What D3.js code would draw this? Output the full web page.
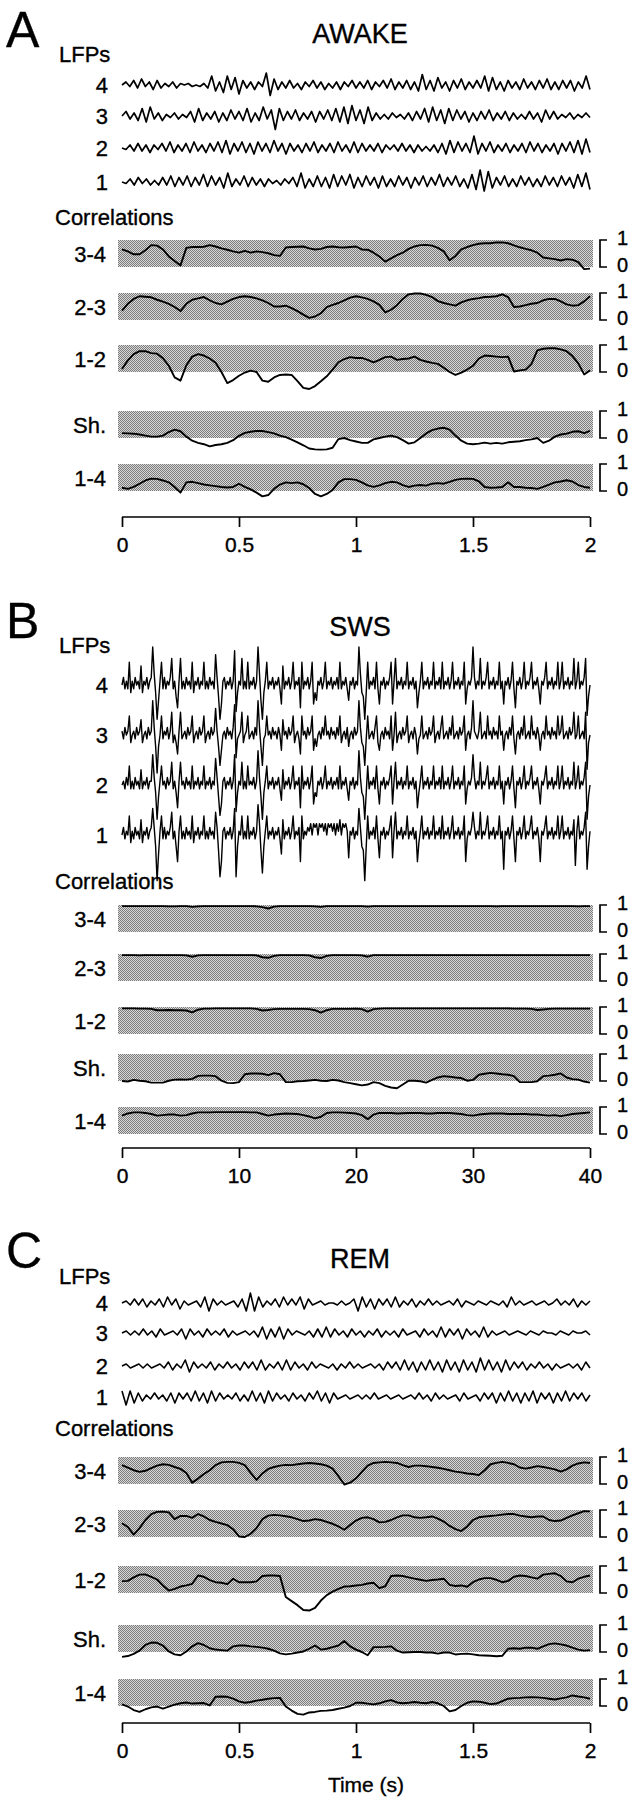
<!DOCTYPE html>
<html>
<head>
<meta charset="utf-8">
<script src="https://cdn.jsdelivr.net/npm/d3@7"></script>
<style>
  body { margin: 0; background: #fff; }
  svg { display: block; }
</style>
</head>
<body>
<div id="fig"></div>
<script>
// ---- data ----
const lfpNames = ["4", "3", "2", "1"];
const pairNames = ["3-4", "2-3", "1-2", "Sh.", "1-4"];
const secTicks = [0, 0.5, 1, 1.5, 2];
const swsTicks = [0, 10, 20, 30, 40];

// LFP traces, arbitrary units, evenly sampled over the window
const awake4 = [0,2,-1,3,-2,4,-1,2,-3,3,-2,1,-1,2,-2,1,0,1,-1,0,-1,1,-2,6,-4,2,-5,6,-3,5,-6,3,-2,2,-3,2,-1,8,-7,4,-3,2,-2,3,-2,1,-3,2,-1,3,-2,2,-3,1,-2,2,-3,2,-1,3,-2,2,-2,3,-3,2,-1,3,-2,4,-3,2,-2,3,-3,2,-4,7,-3,3,-4,5,-2,2,-4,3,-2,4,-3,2,-2,3,-2,6,-4,5,-3,2,-4,3,-2,2,-3,4,-2,2,-3,3,-2,4,-3,2,-3,3,-2,3,-4,2,-2,6,-3];
const awake3 = [0,3,-2,2,-3,5,-4,6,-2,2,-3,1,-1,2,-2,1,-1,3,-4,5,-3,2,-2,3,-4,2,-3,4,-2,3,-3,5,-4,2,-3,6,-2,4,-9,5,-3,3,-2,4,-3,2,-2,3,-4,3,-2,4,-3,5,-4,6,-5,7,-3,4,-5,6,-3,2,-2,1,-2,2,-1,1,-2,2,-3,3,-2,5,-4,6,-3,4,-5,5,-3,4,-2,3,-4,2,-3,3,-2,4,-3,2,-2,3,-3,2,-2,1,-2,3,-2,2,-4,4,-2,3,-2,1,-1,2,-2,1,-1,2,-1];
const awake2 = [0,-1,2,-2,3,-2,2,-3,2,-1,3,-2,4,-3,2,-2,3,-3,4,-2,2,-3,3,-2,4,-3,5,-4,3,-2,4,-3,3,-4,4,-2,3,-3,5,-2,3,-4,3,-2,2,-3,3,-2,4,-3,2,-2,3,-3,4,-2,2,-3,4,-3,3,-2,2,-2,3,-3,2,-1,2,-2,3,-2,2,-3,2,-2,1,-2,2,-3,3,-4,5,-3,4,-2,3,-3,8,-4,3,-2,4,-3,2,-2,3,-3,2,-2,3,-3,4,-2,3,-3,2,-2,3,-4,3,-2,4,-3,5,-4,6,-3];
const awake1 = [0,-1,2,-2,3,-1,2,-2,1,-2,3,-2,4,-3,3,-2,4,-3,3,-2,5,-3,4,-2,3,-4,6,-3,2,-2,4,-3,3,-2,2,-3,2,-1,1,-2,2,-1,3,-3,6,-4,2,-3,4,-3,3,-4,5,-3,4,-2,5,-4,3,-3,4,-2,3,-4,4,-3,2,-3,4,-2,3,-4,3,-2,4,-3,3,-2,5,-3,3,-2,4,-3,2,-4,5,-5,8,-6,7,-4,3,-2,4,-3,2,-3,4,-2,3,-3,2,-3,4,-2,3,-3,4,-2,3,-4,5,-3,6,-5];

const sws4 = [0,2,-1,1,-1,6,-2,1,-1,2,0,1,-1,5,-2,1,0,2,-1,1,
  2,10,3,-2,-9,-4,1,6,-1,2,-1,1,0,2,7,-1,1,-3,-6,1,
  7,-1,1,-1,2,0,1,-1,6,-2,1,0,2,-1,1,0,6,-1,1,-1,
  2,0,1,-1,8,2,-3,-9,-5,1,2,-1,1,0,2,-1,1,9,-7,-2,
  1,0,7,-1,1,-1,6,-1,1,0,2,-1,1,10,3,-4,-9,-2,1,6,
  -1,1,0,2,-1,1,0,2,-1,-5,5,-1,1,0,2,-1,1,6,-1,1,
  0,2,-6,6,-1,1,0,2,-1,1,6,-5,-2,-4,1,0,2,-1,1,6,
  -1,1,0,2,-1,1,0,2,-1,6,-1,1,0,2,-1,-4,1,0,2,-1,
  1,0,10,3,-2,-3,-9,-2,6,-1,1,0,2,-1,6,-1,-5,1,0,2,
  -1,1,0,2,6,-5,1,7,-1,1,0,2,-1,1,0,6,-1,1,0,2,
  -1,1,-6,-2,1,6,-1,1,0,2,-1,1,0,6,-1,1,0,2,-1,6,
  -1,1,0,2,-1,1,6,-1,1,0,2,-1,1,0,6,-5,-1,1,0,2,
  10,2,-1,1,0,7,-1,1,0,2,6,-1,1,0,2,-1,1,0,6,-1,
  1,-5,1,0,2,-1,1,6,-1,-6,1,0,2,-1,1,6,-1,1,0,2,
  6,-1,1,0,2,-1,-5,1,0,2,6,-1,1,0,2,-1,1,0,6,-1,
  1,6,-1,1,0,2,-1,1,0,7,-1,1,6,-1,1,0,2,7,-8,-3,0];
const sws3 = [1,-1,2,0,1,5,-2,0,1,-1,2,0,1,4,-2,0,1,-1,2,0,
  1,9,2,-3,-10,-3,0,5,-1,1,0,2,-1,1,6,-2,0,-2,-5,1,
  6,-1,0,1,-1,2,0,1,5,-2,0,1,-1,2,0,1,5,-2,0,1,
  -1,2,0,1,7,1,-3,-8,-4,0,1,-1,2,0,1,-1,2,8,-6,-1,
  0,1,6,-2,0,1,5,-1,0,1,-1,2,0,9,2,-3,-8,-1,0,5,
  0,1,-1,2,0,1,-1,2,0,-4,4,0,1,-1,2,0,1,5,-2,0,
  1,-1,-5,5,0,1,-1,2,0,1,5,-4,-1,-3,0,1,-1,2,0,5,
  0,1,-1,2,0,1,-1,2,0,5,-2,0,1,-1,2,-3,0,1,-1,2,
  0,1,9,2,-2,-3,-8,-1,5,-1,0,1,-1,2,5,-2,-4,0,1,-1,
  2,0,1,-1,5,-4,0,6,-2,0,1,-1,2,0,1,5,-2,0,1,-1,
  2,0,-5,-1,0,5,-1,0,1,-1,2,0,1,5,-2,0,1,-1,2,5,
  -1,0,1,-1,2,0,5,-1,0,1,-1,2,0,1,5,-4,0,1,-1,2,
  9,1,0,-1,1,6,-1,0,1,-1,5,0,1,-1,2,0,1,-1,5,0,
  1,-4,0,1,-1,2,0,5,-1,-5,0,1,-1,2,0,5,-1,0,1,-1,
  5,0,1,-1,2,0,-4,0,1,-1,5,0,1,-1,2,0,1,-1,5,0,
  1,5,-1,0,1,-1,2,0,1,6,-1,0,5,-1,0,1,-1,6,-9,-2,0];
const sws2 = [0,1,-1,2,0,5,-1,1,-1,2,0,1,-1,4,-1,1,0,2,-1,1,
  1,8,2,-2,-9,-3,1,5,0,1,-1,2,0,1,6,-1,1,-2,-6,1,
  6,0,1,-1,2,0,1,-1,5,-1,1,0,2,-1,1,0,5,-1,1,0,
  2,-1,1,0,7,2,-3,-8,-5,1,2,-1,1,0,2,-1,1,8,-7,-2,
  1,0,6,-1,1,-1,5,0,1,0,2,-1,1,9,2,-3,-9,-2,1,5,
  -1,1,0,2,-1,1,0,2,-1,-4,4,-1,1,0,2,-1,1,5,-1,1,
  0,2,-6,5,-1,1,0,2,-1,1,5,-5,-2,-3,1,0,2,-1,1,5,
  -1,1,0,2,-1,1,0,2,-1,5,-1,1,0,2,-1,-4,1,0,2,-1,
  1,0,9,2,-2,-3,-9,-2,5,-1,1,0,2,-1,5,-1,-5,1,0,2,
  -1,1,0,2,5,-5,1,6,-1,1,0,2,-1,1,0,5,-1,1,0,2,
  -1,1,-6,-2,1,5,-1,1,0,2,-1,1,0,5,-1,1,0,2,-1,5,
  -1,1,0,2,-1,1,5,-1,1,0,2,-1,1,0,5,-5,-1,1,0,2,
  8,2,-1,1,0,6,-1,1,0,2,5,-1,1,0,2,-1,1,0,5,-1,
  1,-5,1,0,2,-1,1,5,-1,-6,1,0,2,-1,1,5,-1,1,0,2,
  5,-1,1,0,2,-1,-5,1,0,2,5,-1,1,0,2,-1,1,0,5,-1,
  1,5,-1,1,0,2,-1,1,0,6,-1,1,5,-1,1,0,2,6,-9,-3,0];
const sws1 = [0,2,-1,1,0,5,-2,1,-1,2,0,1,-1,4,-2,1,0,2,-1,1,
  2,7,2,-3,-12,-5,1,5,-1,2,-1,1,0,2,6,-1,1,-3,-7,1,
  5,-1,1,-1,2,0,1,-1,5,-2,1,0,2,-1,1,0,5,-1,1,-1,
  2,0,1,-1,6,2,-4,-11,-7,1,2,-1,1,0,2,-1,1,7,-11,-3,
  1,0,5,-1,1,-1,5,-1,1,0,2,-1,1,8,3,-4,-10,-3,1,5,
  -1,1,0,2,-1,1,0,2,-1,-5,4,-1,1,0,2,-1,1,5,-1,1,
  0,2,-7,5,-1,1,0,2,1,3,0,3,2,3,0,3,2,3,1,3,
  0,3,2,3,1,3,0,3,1,4,0,3,2,3,1,-6,1,0,2,-1,
  1,0,7,2,-3,-4,-12,-3,5,-1,1,0,2,-1,5,-1,-6,1,0,2,
  -1,1,0,2,5,-6,1,6,-1,1,0,2,-1,1,0,5,-1,1,0,2,
  -1,1,-7,-2,1,5,-1,1,0,2,-1,1,0,5,-1,1,0,2,-1,5,
  -1,1,0,2,-1,1,5,-1,1,0,2,-1,1,0,5,-7,-1,1,0,2,
  6,2,-1,1,0,6,-1,1,0,2,5,-1,1,0,2,-1,1,0,5,-1,
  1,-9,1,0,2,-1,1,5,-1,-7,1,0,2,-1,1,5,-1,1,0,2,
  5,-1,1,0,2,-1,-7,1,0,2,5,-1,1,0,2,-1,1,0,5,-1,
  1,5,-1,1,0,2,-1,1,0,4,-8,1,5,-1,1,0,2,6,-9,-3,1];

const rem4 = [0,1,-1,2,-1,2,-2,1,-1,2,-2,3,-1,2,-3,1,-1,0,1,-2,3,-4,2,-1,1,-1,0,1,-2,2,-4,5,-4,3,-2,1,-1,2,-2,3,-1,2,-1,3,-3,2,-1,0,1,-1,0,0,-1,1,-1,0,2,-4,3,-2,2,-3,2,-1,2,-2,3,-2,1,-1,2,-2,1,-1,2,-1,1,-1,0,1,-1,2,-2,1,0,-1,1,0,-1,1,0,-1,1,-2,3,-1,1,-1,0,1,-1,0,1,-1,0,2,-1,1,-1,2,-2,1,-1,1];
const rem3 = [0,1,-1,1,-1,2,-1,1,-2,2,-1,0,1,-1,2,-3,2,-1,1,-2,2,-1,1,-1,2,-2,1,-1,0,1,-1,1,-2,3,-3,2,-2,3,-3,2,-1,1,0,-1,1,-2,2,-2,3,-2,2,-1,1,-2,2,-1,1,-2,1,-1,2,-2,1,-1,1,-2,2,-1,0,1,-2,2,-1,1,-2,3,-2,2,-1,2,-3,2,-1,1,-2,3,-2,1,-1,0,1,-1,0,1,0,-1,1,0,-1,1,0,0,-1,1,0,-1,1,0,0,1,-1];
const rem2 = [0,1,-1,0,1,-1,1,-1,0,1,-1,2,-2,1,-1,3,-3,2,-1,1,-1,2,-2,1,-1,2,-1,1,-2,2,-1,2,-2,3,-2,1,-1,2,-2,3,-2,2,-1,1,-2,2,-1,1,0,-1,1,-2,1,-1,2,-1,1,-1,0,1,-1,1,-2,2,-1,2,-2,3,-2,2,-3,2,-2,3,-2,2,-3,3,-2,2,-3,3,-2,2,-3,4,-2,3,-2,2,-3,3,-2,2,-1,2,-2,1,-1,2,-1,1,-2,1,-1,0,1,-1,1,-2,2,-1];
const rem1 = [3,-4,3,-3,2,-2,1,-1,2,-1,1,-2,2,-3,2,-1,2,-2,3,-2,2,-3,3,-2,2,-1,1,-1,2,-2,1,-2,3,-2,2,-3,3,-2,2,-1,1,-2,2,-1,1,-2,2,-1,3,-2,2,-3,2,-1,0,1,-1,0,1,-1,1,-1,2,-1,0,1,-1,0,1,-1,0,1,-1,2,-1,1,-2,2,-1,1,-1,0,1,-2,2,-1,0,1,-2,2,-1,2,-3,2,-2,3,-2,2,-3,2,-2,3,-3,2,-1,2,-3,2,-2,3,-2,2,-1,2,-2,1];

// sliding-window correlations, r x 100, 81 even samples over the window
const awakeC34 = [65,58,47,47,62,81,79,65,39,22,6,71,74,74,75,81,76,69,64,58,53,60,53,58,55,51,44,41,72,74,75,76,69,65,67,74,76,73,72,74,76,65,64,53,39,20,32,44,53,67,76,81,82,79,71,58,25,41,65,74,81,86,88,88,91,91,88,80,73,67,62,53,35,32,29,24,29,27,18,-8,-6];
const awakeC23 = [35,60,78,88,86,84,75,68,60,48,33,60,75,80,85,73,63,58,68,78,85,88,85,80,73,63,50,50,53,44,33,20,8,13,25,48,56,63,73,83,88,84,78,69,56,28,38,55,78,95,98,98,93,85,70,63,58,53,65,73,78,81,85,86,88,95,85,48,50,55,60,63,73,78,78,69,58,53,55,69,88];
const awakeC12 = [11,43,66,77,77,70,68,51,23,-20,-32,25,57,66,61,50,34,0,-41,-30,-14,-2,5,0,-32,-36,-20,-11,-9,-11,-34,-59,-63,-52,-34,-16,9,36,48,55,52,52,45,36,45,55,57,45,48,50,57,45,39,34,30,16,0,-11,-2,9,23,50,61,59,57,55,57,2,6,9,30,80,86,88,88,84,77,59,32,-9,6];
const awakeCSh = [18,17,16,13,9,5,5,9,22,31,25,5,-10,-18,-23,-31,-26,-23,-18,-8,8,19,23,26,26,22,17,9,3,-6,-16,-27,-39,-42,-43,-42,-36,-4,0,-8,-13,-18,-18,-5,0,5,9,3,-8,-21,-16,0,17,29,35,38,31,9,-10,-21,-23,-21,-17,-21,-18,-21,-16,-14,-12,-8,-5,0,-18,-10,5,13,16,23,25,18,26];
const awakeC14 = [12,8,15,27,39,46,45,39,32,15,-6,32,34,29,24,21,18,15,13,15,27,15,6,-6,-20,-15,8,24,32,29,32,25,11,-11,-20,-11,4,32,44,44,41,32,21,15,21,29,34,32,22,15,20,22,20,27,29,27,34,41,45,46,45,36,15,12,13,15,32,15,15,12,11,8,15,24,32,35,40,35,22,15,12];

const swsC34 = [96,96,96,96,96,96,96,96,95,95,96,96,93,95,96,96,96,96,96,96,96,96,96,95,92,87,94,96,96,96,96,96,96,95,93,96,96,96,96,96,96,96,94,96,96,96,96,96,96,96,96,96,96,96,96,96,96,96,96,96,96,96,96,96,95,96,96,96,96,96,96,96,96,96,96,96,96,96,95,96,96];
const swsC23 = [96,96,96,95,96,96,96,96,96,96,96,95,90,95,96,96,96,96,96,96,96,96,96,95,88,86,93,96,96,96,96,96,95,88,85,93,96,96,96,96,96,95,90,96,96,96,96,96,96,96,96,96,96,96,96,96,96,96,96,96,96,96,96,96,96,96,96,96,96,96,96,96,96,96,96,96,96,96,96,96,96];
const swsC12 = [95,95,95,94,94,93,88,88,89,88,88,87,80,90,94,94,95,95,95,95,95,95,95,93,87,89,92,93,93,93,93,93,92,88,79,88,93,93,93,93,94,92,83,92,94,95,95,95,95,95,95,95,95,95,95,95,95,95,95,95,95,95,95,95,95,95,95,94,94,94,93,89,91,93,94,94,94,94,94,94,94];
const swsCSh = [0,-2,4,1,-1,-6,-6,-6,1,5,6,5,8,19,20,20,18,1,-7,-8,-4,25,28,28,27,22,29,25,-4,-4,-1,0,2,4,1,0,4,2,-4,-8,-12,-16,-13,-4,-8,-18,-24,-27,-13,1,1,-1,-6,4,13,18,16,13,11,1,4,23,27,30,28,25,23,18,-4,-4,-4,-1,18,20,23,28,13,7,5,-2,-6];
const swsC14 = [68,76,80,80,78,74,68,70,72,72,68,70,76,80,80,80,81,81,81,81,81,81,80,80,74,68,72,74,76,75,74,70,65,58,64,78,80,80,79,78,76,70,55,72,78,78,78,76,77,78,78,78,76,76,78,78,78,76,74,70,68,72,74,76,76,76,74,74,74,74,72,72,70,68,70,66,70,74,76,78,80];

const remC34 = [70,61,51,45,49,59,68,73,71,63,56,41,5,20,37,51,70,80,82,82,78,70,41,15,39,56,63,68,71,70,73,76,78,76,73,68,57,29,-2,5,21,45,68,78,80,82,80,78,70,63,68,68,66,63,60,56,51,46,43,39,37,33,51,73,78,82,78,73,61,57,61,66,63,59,54,46,54,68,76,80,78];
const remC23 = [51,37,9,33,63,85,93,94,91,66,78,78,71,85,76,63,56,50,44,29,2,0,12,33,66,79,82,80,77,73,66,59,61,66,63,56,49,39,27,44,61,71,73,66,54,56,63,73,80,80,73,71,73,76,68,57,41,29,22,39,63,73,76,78,80,83,85,85,79,76,73,76,76,63,59,61,71,80,88,96,95];
const remC12 = [44,45,58,68,69,60,50,28,9,15,24,28,34,65,60,48,40,38,33,53,40,40,40,43,63,65,65,63,-15,-30,-45,-63,-65,-55,-28,-8,5,15,24,25,28,30,35,38,18,25,63,65,63,58,53,49,45,48,50,53,30,26,28,23,40,50,55,55,49,40,45,60,65,63,58,53,68,71,73,63,43,40,53,60,65];
const remCSh = [-18,-15,-7,5,26,35,34,24,2,-9,-12,2,21,33,26,14,9,7,5,21,24,24,21,19,16,12,5,-5,-9,-6,-2,2,12,24,9,12,18,24,41,21,9,0,-12,18,18,19,21,5,-2,-1,0,0,-2,-2,-6,-2,-2,-9,-7,-6,-9,-12,-13,-14,-16,-14,12,14,12,16,16,12,21,29,32,28,24,16,9,5,7];
const remC14 = [6,-2,-15,-22,-12,-5,-2,-10,-2,5,10,13,9,10,11,2,34,35,34,27,17,12,15,20,23,27,29,30,-2,-17,-29,-32,-24,-22,-18,-17,-15,-10,-6,0,12,12,9,6,10,17,22,13,10,12,15,12,10,15,10,0,-20,-15,0,12,17,16,12,7,9,18,27,29,30,32,33,32,30,27,24,28,32,39,35,32,27];

// ---- layout ----
const W = 637, H = 1800;
const FONT = "'Liberation Sans', Arial, Helvetica, sans-serif";

const panels = [
  { letter: "A", title: "AWAKE", letterY: 47, titleY: 43, lfpsY: 62,
    lfpY: [85, 116, 148, 182], unit: 1.5, lfpStroke: 1.7, lfp: [awake4, awake3, awake2, awake1],
    corrLabelY: 225, bandTop: [240, 293, 345, 411, 464],
    corr: [awakeC34, awakeC23, awakeC12, awakeCSh, awakeC14],
    axisY: 517, tmax: 2, ticks: secTicks },
  { letter: "B", title: "SWS", letterY: 638, titleY: 636, lfpsY: 653,
    lfpY: [685, 735, 785, 835], unit: 3.8, lfpStroke: 1.4, lfp: [sws4, sws3, sws2, sws1],
    corrLabelY: 889, bandTop: [905, 954, 1007, 1054, 1107],
    corr: [swsC34, swsC23, swsC12, swsCSh, swsC14],
    axisY: 1148, tmax: 40, ticks: swsTicks },
  { letter: "C", title: "REM", letterY: 1268, titleY: 1268, lfpsY: 1284,
    lfpY: [1303, 1333, 1366, 1397], unit: 2.0, lfpStroke: 1.6, lfp: [rem4, rem3, rem2, rem1],
    corrLabelY: 1436, bandTop: [1457, 1510, 1566, 1625, 1679],
    corr: [remC34, remC23, remC12, remCSh, remC14],
    axisY: 1723, tmax: 2, ticks: secTicks, xlabel: "Time (s)" }
];
const bandH = 27;

const svg = d3.select("#fig").append("svg")
  .attr("width", W).attr("height", H)
  .style("font-family", FONT);

svg.append("rect").attr("width", W).attr("height", H).attr("fill", "#fff");

// stippled grey for the correlation bands
const pat = svg.append("defs").append("pattern")
  .attr("id", "stip").attr("width", 2).attr("height", 2)
  .attr("patternUnits", "userSpaceOnUse");
pat.append("rect").attr("width", 2).attr("height", 2).attr("fill", "#d8d8d8");
pat.append("rect").attr("x", 0).attr("y", 0).attr("width", 1).attr("height", 1).attr("fill", "#7c7c7c");
pat.append("rect").attr("x", 1).attr("y", 1).attr("width", 1).attr("height", 1).attr("fill", "#7c7c7c");

// scanned text looks a little heavier than a clean regular weight
function label(g, x, y, size, txt, anchor) {
  return g.append("text").attr("x", x).attr("y", y)
    .attr("font-size", size).attr("text-anchor", anchor || "start")
    .attr("stroke", "#000").attr("stroke-width", 0.35)
    .text(txt);
}

panels.forEach(p => {
  const g = svg.append("g");
  const x = d3.scaleLinear().domain([0, p.tmax]).range([122, 590]);

  label(g, 6, p.letterY, 50, p.letter);
  label(g, 360, p.titleY, 27, p.title, "middle");
  label(g, 59, p.lfpsY, 22, "LFPs");

  // LFP traces
  p.lfp.forEach((vals, k) => {
    const y0 = p.lfpY[k];
    const xi = d3.scaleLinear().domain([0, vals.length - 1]).range([0, p.tmax]);
    const line = d3.line()
      .x((d, i) => x(xi(i)))
      .y(d => y0 - d * p.unit);
    g.append("path").datum(vals)
      .attr("d", line)
      .attr("fill", "none").attr("stroke", "#000")
      .attr("stroke-width", p.lfpStroke).attr("stroke-linejoin", "round");
    label(g, 108, p.lfpY[k] + 8, 22, lfpNames[k], "end");
  });

  label(g, 55, p.corrLabelY, 22, "Correlations");

  // correlation bands
  p.corr.forEach((vals, k) => {
    const top = p.bandTop[k], bot = top + bandH;
    const y = d3.scaleLinear().domain([0, 100]).range([bot, top]);
    const xi = d3.scaleLinear().domain([0, vals.length - 1]).range([0, p.tmax]);

    g.append("rect").attr("x", 118).attr("y", top)
      .attr("width", 593 - 118).attr("height", bandH)
      .attr("fill", "url(#stip)");

    g.append("path").datum(vals)
      .attr("d", d3.line().x((d, i) => x(xi(i))).y(d => y(d)))
      .attr("fill", "none").attr("stroke", "#000")
      .attr("stroke-width", 1.9).attr("stroke-linejoin", "round");

    label(g, 106, (top + bot) / 2 + 8, 22, pairNames[k], "end");

    // 0-1 scale bracket
    g.append("path")
      .attr("d", `M607,${y(100)}H600V${y(0)}H607`)
      .attr("fill", "none").attr("stroke", "#000").attr("stroke-width", 1.7);
    label(g, 617, y(100) + 5, 20, "1");
    label(g, 617, y(0) + 5, 20, "0");
  });

  // time axis
  const ax = g.append("g").attr("transform", `translate(0,${p.axisY})`)
    .call(d3.axisBottom(x).tickValues(p.ticks).tickSize(10).tickPadding(10)
      .tickFormat(d => String(d)));
  ax.select(".domain").attr("d", `M${x(0)},0H${x(p.tmax)}`)
    .attr("stroke-width", 1.7);
  ax.selectAll(".tick line").attr("stroke-width", 1.7);
  ax.selectAll(".tick text").attr("font-size", 21).attr("font-family", FONT)
    .attr("stroke", "#000").attr("stroke-width", 0.35);

  if (p.xlabel) {
    label(g, 366, p.axisY + 69, 21, p.xlabel, "middle");
  }
});
</script>
</body>
</html>
